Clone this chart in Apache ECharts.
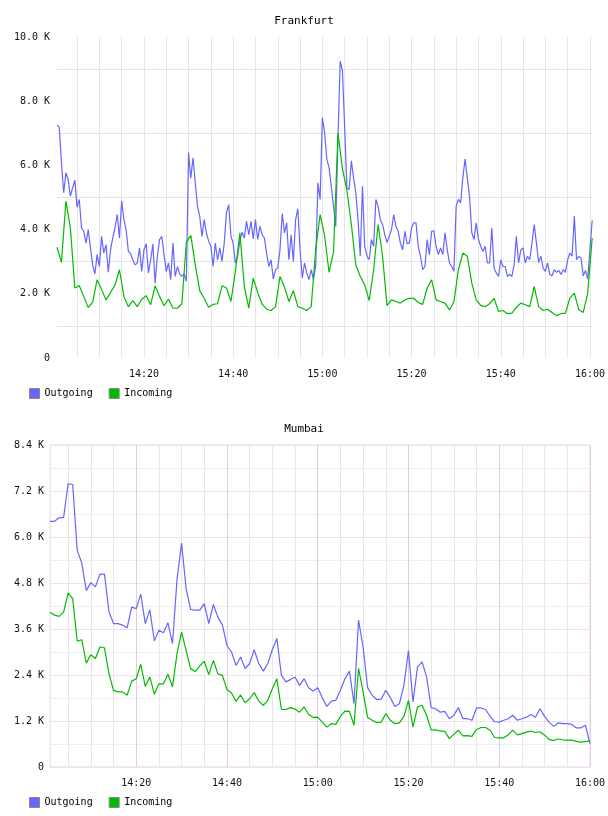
<!DOCTYPE html>
<html><head><meta charset="utf-8">
<script src="https://cdn.jsdelivr.net/npm/echarts@6/dist/echarts.min.js"></script>
<style>html,body{margin:0;padding:0;background:#fff}#c{width:608px;height:816px}</style>
</head><body><div id="c"></div>
<script>
// ---------- data (values in thousands) ----------
const titles = ['Frankfurt', 'Mumbai'];
const seriesNames = ['Outgoing', 'Incoming'];
const xTickLabels = ['14:20', '14:40', '15:00', '15:20', '15:40', '16:00'];
const fraYTicks = [0, 2, 4, 6, 8, 10];
const mumYTicks = [0, 1.2, 2.4, 3.6, 4.8, 6.0, 7.2, 8.4];

// Frankfurt: Outgoing every 30 s from 14:00:30 to 16:00:30
const fraOutgoing = [
  7.25, 7.2, 6.08, 5.15, 5.77, 5.56, 5.04, 5.3, 5.54, 4.7,
  4.94, 4.05, 3.95, 3.58, 4.0, 3.43, 2.9, 2.62, 3.22, 2.85,
  3.79, 3.27, 3.53, 2.67, 3.37, 3.74, 4.05, 4.47, 3.74, 4.89,
  4.31, 4.0, 3.32, 3.25, 3.06, 2.9, 2.96, 3.43, 2.7, 3.37,
  3.56, 2.65, 3.06, 3.55, 2.33, 3.17, 3.69, 3.79, 3.22, 2.7,
  2.96, 2.44, 3.58, 2.54, 2.85, 2.62, 2.54, 2.62, 2.39, 6.4,
  5.6, 6.24, 5.46, 4.73, 4.42, 3.79, 4.31, 3.9, 3.64, 3.48,
  2.85, 3.58, 3.06, 3.43, 3.01, 3.58, 4.52, 4.78, 3.79, 3.58,
  2.96, 3.17, 3.64, 3.92, 3.74, 4.26, 3.84, 4.26, 3.71, 4.31,
  3.69, 4.1, 3.84, 3.74, 3.27, 2.85, 3.06, 2.46, 2.75, 2.8,
  3.37, 4.5, 3.9, 4.21, 3.06, 3.84, 3.01, 4.31, 4.65, 3.37,
  2.49, 2.96, 2.65, 2.44, 2.75, 2.44, 2.85, 5.46, 4.94, 7.49,
  7.02, 6.19, 5.93, 5.35, 4.73, 4.1, 6.86, 9.25, 8.95, 7.2,
  5.3, 5.25, 6.14, 5.61, 5.15, 4.31, 3.17, 5.35, 3.48, 3.17,
  3.06, 3.69, 3.48, 4.94, 4.73, 4.31, 4.16, 3.84, 3.6, 3.79,
  4.0, 4.47, 4.1, 3.95, 3.58, 3.37, 3.95, 3.56, 3.58, 4.05,
  4.21, 4.21, 3.48, 3.17, 2.75, 2.85, 3.69, 3.22, 3.95, 3.95,
  3.48, 3.22, 3.43, 3.22, 3.9, 3.37, 2.96, 2.85, 2.7, 4.73,
  4.94, 4.83, 5.61, 6.2, 5.61, 5.04, 3.9, 3.69, 4.21, 3.69,
  3.48, 3.32, 3.48, 2.96, 2.96, 4.05, 2.8, 2.65, 2.54, 3.06,
  2.85, 2.85, 2.54, 2.6, 2.54, 2.91, 3.79, 2.96, 3.37, 3.43,
  2.96, 3.17, 3.06, 3.58, 4.16, 3.58, 2.98, 3.17, 2.8, 2.7,
  2.96, 2.6, 2.56, 2.75, 2.67, 2.73, 2.6, 2.75, 2.67, 3.06,
  3.27, 3.17, 4.42, 3.06, 3.17, 3.11, 2.56, 2.73, 2.46, 3.37,
  4.29
];
// Frankfurt: Incoming every 60 s from 14:00:30 to 16:00:30
const fraIncoming = [
  3.45, 2.98, 4.89, 4.05, 2.18, 2.25, 1.92, 1.57, 1.74, 2.44,
  2.13, 1.81, 2.04, 2.27, 2.75, 1.92, 1.6, 1.79, 1.6, 1.83,
  1.94, 1.66, 2.25, 1.92, 1.63, 1.83, 1.55, 1.55, 1.69, 3.6,
  3.82, 2.9, 2.1, 1.86, 1.58, 1.67, 1.69, 2.25, 2.18, 1.76,
  2.7, 3.9, 2.23, 1.55, 2.49, 2.04, 1.68, 1.52, 1.48, 1.6,
  2.54, 2.21, 1.76, 2.1, 1.6, 1.55, 1.48, 1.6, 3.37, 4.47,
  3.81, 2.67, 3.3, 7.0, 5.9, 5.23, 4.16, 2.9, 2.54, 2.28,
  1.79, 2.75, 4.16, 3.17, 1.63, 1.81, 1.76, 1.71, 1.81, 1.86,
  1.86, 1.73, 1.67, 2.18, 2.44, 1.81, 1.76, 1.71, 1.5, 1.75,
  2.75, 3.27, 3.17, 2.33, 1.81, 1.64, 1.6, 1.69, 1.86, 1.45,
  1.48, 1.38, 1.4, 1.58, 1.71, 1.66, 1.6, 2.23, 1.6, 1.48,
  1.52, 1.42, 1.32, 1.38, 1.4, 1.86, 2.02, 1.5, 1.42, 2.02,
  3.74
];
// Mumbai: every 60 s from 14:01 to 16:00
const mumOutgoing = [
  6.41, 6.41, 6.5, 6.51, 7.39, 7.37, 5.65, 5.32, 4.6, 4.81,
  4.7, 5.03, 5.03, 4.05, 3.74, 3.74, 3.7, 3.63, 4.17, 4.13,
  4.51, 3.74, 4.1, 3.29, 3.57, 3.5, 3.76, 3.22, 4.9, 5.84,
  4.65, 4.11, 4.09, 4.09, 4.26, 3.74, 4.24, 3.91, 3.7, 3.17,
  3.0, 2.65, 2.87, 2.57, 2.7, 3.06, 2.7, 2.5, 2.7, 3.06,
  3.35, 2.39, 2.22, 2.28, 2.35, 2.13, 2.3, 2.07, 1.98, 2.07,
  1.81, 1.58, 1.72, 1.74, 2.0, 2.3, 2.5, 1.65, 3.83, 3.13,
  2.07, 1.87, 1.76, 1.77, 2.0, 1.81, 1.58, 1.65, 2.13, 3.04,
  1.7, 2.61, 2.74, 2.35, 1.55, 1.52, 1.43, 1.45, 1.26, 1.35,
  1.55, 1.26, 1.26, 1.22, 1.54, 1.54, 1.5, 1.32, 1.18, 1.17,
  1.22, 1.26, 1.35, 1.22, 1.26, 1.3, 1.37, 1.3, 1.52, 1.32,
  1.17, 1.06, 1.15, 1.13, 1.13, 1.11, 1.02, 1.02, 1.09, 0.61
];
const mumIncoming = [
  4.04, 3.96, 3.93, 4.04, 4.54, 4.39, 3.28, 3.32, 2.71, 2.93,
  2.83, 3.13, 3.11, 2.43, 2.0, 1.96, 1.96, 1.87, 2.24, 2.3,
  2.68, 2.1, 2.35, 1.9, 2.17, 2.17, 2.42, 2.09, 2.96, 3.52,
  3.04, 2.56, 2.49, 2.63, 2.76, 2.41, 2.78, 2.43, 2.39, 2.02,
  1.93, 1.71, 1.88, 1.68, 1.78, 1.94, 1.72, 1.61, 1.74, 2.04,
  2.3, 1.5, 1.5, 1.55, 1.51, 1.43, 1.57, 1.37, 1.29, 1.3,
  1.17, 1.04, 1.13, 1.11, 1.32, 1.46, 1.45, 1.09, 2.57, 1.96,
  1.29, 1.22, 1.16, 1.17, 1.39, 1.22, 1.13, 1.15, 1.32, 1.74,
  1.04, 1.57, 1.61, 1.35, 0.97, 0.97, 0.94, 0.93, 0.74, 0.85,
  0.96, 0.81, 0.82, 0.8, 0.98, 1.03, 1.03, 0.96, 0.77, 0.76,
  0.76, 0.84, 0.96, 0.84, 0.87, 0.91, 0.94, 0.9, 0.92, 0.83,
  0.72, 0.69, 0.73, 0.71, 0.7, 0.7, 0.67, 0.65, 0.66, 0.68
];

// ---------- time categories ----------
function pad(n){ return (n < 10 ? '0' : '') + n; }
function hms(sec){ return pad(Math.floor(sec/3600)) + ':' + pad(Math.floor(sec%3600/60)) + ':' + pad(sec%60); }
const fraCategories = fraOutgoing.map((_, i) => hms(14*3600 + 30 + 30*i));
const mumCategories = mumOutgoing.map((_, i) => hms(14*3600 + 60 + 60*i));

// ---------- style ----------
const FONT = 'DejaVu Sans Mono';
const BLUE = '#6666ff', GREEN = '#00bb00';
const isFiveMin = (idx, val) => val.endsWith(':00') && (+val.slice(3,5)) % 5 === 0;
const isLabel = (idx, val) => val.endsWith(':00') && xTickLabels.includes(val.slice(0,5));
const kFmt = v => v === 0 ? '0' : v.toFixed(1) + ' K';

const xBase = {
  type: 'category', boundaryGap: false,
  axisLine: {show: false}, axisTick: {show: false},
  axisLabel: {interval: isLabel, formatter: v => v.slice(0,5), margin: 11,
    fontFamily: FONT, fontSize: 10, color: '#111'}
};

const option = {
  animation: false,
  backgroundColor: '#fff',
  title: [
    {text: titles[0], left: 'center', top: 11, textStyle: {fontFamily: FONT, fontSize: 11, fontWeight: 'normal', color: '#000'}},
    {text: titles[1], left: 'center', top: 419, textStyle: {fontFamily: FONT, fontSize: 11, fontWeight: 'normal', color: '#000'}}
  ],
  legend: [
    {data: seriesNames, left: 24, top: 383, icon: 'rect', itemWidth: 10, itemHeight: 10, itemGap: 16,
     itemStyle: {borderColor: '#888', borderWidth: 1},
     textStyle: {fontFamily: FONT, fontSize: 10, color: '#000'}},
    {data: seriesNames, left: 24, top: 792, icon: 'rect', itemWidth: 10, itemHeight: 10, itemGap: 16,
     itemStyle: {borderColor: '#888', borderWidth: 1},
     textStyle: {fontFamily: FONT, fontSize: 10, color: '#000'}}
  ],
  grid: [
    {left: 57, right: 14, top: 37, bottom: 816 - 358, show: false},
    {left: 50, right: 14, top: 445, bottom: 816 - 767, show: true, borderColor: '#ead6ea', borderWidth: 1}
  ],
  xAxis: [
    Object.assign({}, xBase, {gridIndex: 0, data: fraCategories,
      splitLine: {show: true, interval: isFiveMin, lineStyle: {color: '#e6e6e6', width: 1}}}),
    Object.assign({}, xBase, {gridIndex: 1, data: mumCategories,
      splitLine: {show: true, interval: isFiveMin,
        lineStyle: {color: ['#e8e8e8', '#e8e8e8', '#e8e8e8', '#e2cce2'], width: 1}}})
  ],
  yAxis: [
    {type: 'value', gridIndex: 0, min: fraYTicks[0], max: fraYTicks[fraYTicks.length-1], interval: fraYTicks[1] - fraYTicks[0],
     axisLine: {show: false}, axisTick: {show: false},
     splitLine: {show: false},
     minorTick: {show: false, splitNumber: 2},
     minorSplitLine: {show: true, lineStyle: {color: '#e4e4e4', width: 1}},
     axisLabel: {formatter: kFmt, margin: 7, fontFamily: FONT, fontSize: 10, color: '#111'}},
    {type: 'value', gridIndex: 1, min: mumYTicks[0], max: mumYTicks[mumYTicks.length-1], interval: mumYTicks[1] - mumYTicks[0],
     axisLine: {show: false}, axisTick: {show: false},
     splitLine: {show: true, lineStyle: {color: '#f0e0f0', width: 1}},
     minorTick: {show: false, splitNumber: 2},
     minorSplitLine: {show: true, lineStyle: {color: '#efefef', width: 1}},
     axisLabel: {formatter: kFmt, margin: 6, fontFamily: FONT, fontSize: 10, color: '#111'}}
  ],
  series: [
    {name: seriesNames[0], type: 'line', xAxisIndex: 0, yAxisIndex: 0, data: fraOutgoing,
     symbol: 'none', lineStyle: {color: BLUE, width: 1.2}, itemStyle: {color: BLUE}, z: 3},
    {name: seriesNames[1], type: 'line', xAxisIndex: 0, yAxisIndex: 0,
     data: fraIncoming.map((v, j) => [2*j, v]),
     symbol: 'none', lineStyle: {color: GREEN, width: 1.2}, itemStyle: {color: GREEN}, z: 4},
    {name: seriesNames[0], type: 'line', xAxisIndex: 1, yAxisIndex: 1, data: mumOutgoing,
     symbol: 'none', lineStyle: {color: BLUE, width: 1.2}, itemStyle: {color: BLUE}, z: 3},
    {name: seriesNames[1], type: 'line', xAxisIndex: 1, yAxisIndex: 1, data: mumIncoming,
     symbol: 'none', lineStyle: {color: GREEN, width: 1.2}, itemStyle: {color: GREEN}, z: 4}
  ]
};
const chart = echarts.init(document.getElementById('c'), null, {renderer: 'canvas'});
chart.setOption(option);
</script>
</body></html>
